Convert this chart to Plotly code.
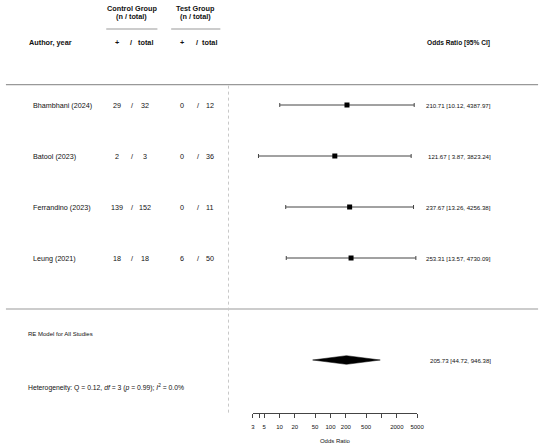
import math
import plotly.graph_objects as go

# study data
authors = ["Bhambhani (2024)", "Batool (2023)", "Ferrandino (2023)", "Leung (2021)"]
ctrl_events = [29, 2, 139, 18]
ctrl_total = [32, 3, 152, 18]
test_events = [0, 0, 0, 6]
test_total = [12, 36, 11, 50]
odds_ratio = [210.71, 121.67, 237.67, 253.31]
ci_low = [10.12, 3.87, 13.26, 13.57]
ci_high = [4387.97, 3823.24, 4256.38, 4730.09]

# pooled random effects estimate
re_label = "RE Model for All Studies"
re_or = 205.73
re_low = 44.72
re_high = 946.38

# heterogeneity
het_q = 0.12
het_df = 3
het_p = 0.99
het_i2 = 0.0

tick_vals = [3, 5, 10, 20, 50, 100, 200, 500, 2000, 5000]
tick_text = ["3", "5", "10", "20", "50", "100", "200", "500", "2000", "5000"]
unlabeled_ticks = [4, 1000]

W, H = 550, 448
FONT = "Liberation Sans, Arial, sans-serif"
TXT = "#111111"

# the visible odds ratio axis sits between these pixel columns
ax_px0, ax_px1 = 255, 422
lo, hi = math.log10(tick_vals[0]), math.log10(tick_vals[-1])
px_per_dec = (ax_px1 - ax_px0) / (hi - lo)
x_range = [lo - ax_px0 / px_per_dec, lo + (W - ax_px0) / px_per_dec]

rows = list(range(1, len(authors) + 1))
re_row = len(authors) + 2


def px(x):
    return x / W


def fmt_ci(est, l, u):
    ls = f"{l:.2f}"
    if len(ls) < 5:
        ls = " " + ls
    return f"{est:.2f} [{ls}, {u:.2f}]"


fig = go.Figure()

fig.add_trace(go.Scatter(
    x=odds_ratio, y=rows, mode="markers",
    marker=dict(symbol="square", size=5, color="black"),
    error_x=dict(type="data", symmetric=False,
                 array=[h - o for h, o in zip(ci_high, odds_ratio)],
                 arrayminus=[o - l for o, l in zip(odds_ratio, ci_low)],
                 color="#444444", thickness=1, width=2),
    hoverinfo="skip", showlegend=False))

dh = 0.085
fig.add_trace(go.Scatter(
    x=[re_low, re_or, re_high, re_or, re_low],
    y=[re_row, re_row - dh, re_row, re_row + dh, re_row],
    mode="lines", fill="toself", fillcolor="black",
    line=dict(color="black", width=0.5),
    hoverinfo="skip", showlegend=False))

# dummy trace so the odds ratio axis is drawn
fig.add_trace(go.Scatter(
    x=[tick_vals[0], tick_vals[-1]], y=[0, 0], xaxis="x2", yaxis="y2",
    mode="markers", marker=dict(opacity=0), hoverinfo="skip", showlegend=False))

ann = []


def add_text(x, y, text, size, anchor="left", bold=False):
    if bold:
        text = "<b>" + text + "</b>"
    ann.append(dict(x=px(x), y=y, xref="paper", yref="y", text=text,
                    showarrow=False, xanchor=anchor, yanchor="middle",
                    font=dict(family=FONT, size=size, color=TXT)))


# header
hs = 7.3
add_text(132, -0.9, "Control Group", hs, "center", True)
add_text(132, -0.73, "(n / total)", hs, "center", True)
add_text(197, -0.9, "Test Group", hs, "center", True)
add_text(197, -0.73, "(n / total)", hs, "center", True)
add_text(25, -0.22, "Author, year", hs, "left", True)
add_text(117, -0.22, "+", hs, "center", True)
add_text(131.5, -0.22, "/", hs, "center", True)
add_text(145.5, -0.22, "total", hs, "center", True)
add_text(183, -0.22, "+", hs, "center", True)
add_text(198.5, -0.22, "/", hs, "center", True)
add_text(211, -0.22, "total", hs, "center", True)
add_text(498, -0.22, "Odds Ratio [95% CI]", 6.6, "right", True)

fs = 7.2
for r, a, ce, ct, te, tt, o, l, u in zip(rows, authors, ctrl_events, ctrl_total,
                                         test_events, test_total, odds_ratio, ci_low, ci_high):
    add_text(29, r, a, fs)
    add_text(117, r, str(ce), fs, "center")
    add_text(132, r, "/", fs, "center")
    add_text(145.5, r, str(ct), fs, "center")
    add_text(183, r, str(te), fs, "center")
    add_text(199.5, r, "/", fs, "center")
    add_text(211, r, str(tt), fs, "center")
    add_text(499, r, fmt_ci(o, l, u), 6.1, "right")

add_text(24, 5.49, re_label, 6.0)
add_text(499, re_row, fmt_ci(re_or, re_low, re_high), 6.1, "right")
het = (f"Heterogeneity: Q = {het_q:.2f}, <i>df</i> = {het_df} "
       f"(<i>p</i> = {het_p:.2f}); <i>I</i><sup>2</sup> = {het_i2:.1f}%")
add_text(24, 6.53, het, 6.8)

shapes = [
    dict(type="line", xref="paper", yref="y", x0=px(4), x1=px(545), y0=0.6, y1=0.6,
         line=dict(color="#999999", width=1.2)),
    dict(type="line", xref="paper", yref="y", x0=px(4), x1=px(545), y0=5.0, y1=5.0,
         line=dict(color="#999999", width=1.2)),
    dict(type="line", xref="paper", yref="y", x0=px(106), x1=px(158), y0=-0.49, y1=-0.49,
         line=dict(color="#999999", width=1)),
    dict(type="line", xref="paper", yref="y", x0=px(172), x1=px(222), y0=-0.49, y1=-0.49,
         line=dict(color="#999999", width=1)),
    dict(type="line", xref="x", yref="y", x0=1, x1=1, y0=0.62, y1=7.04,
         line=dict(color="#c8c8c8", width=1, dash="dot")),
]

fig.update_layout(
    width=W, height=H,
    margin=dict(l=0, r=0, t=0, b=0),
    paper_bgcolor="white", plot_bgcolor="rgba(0,0,0,0)",
    annotations=ann, shapes=shapes,
    xaxis=dict(type="log", range=x_range, visible=False, domain=[0, 1]),
    yaxis=dict(range=[1 + (H - 105) / 51, 1 - 105 / 51], visible=False, domain=[0, 1]),
    xaxis2=dict(type="log", domain=[px(ax_px0), px(ax_px1)], range=[lo, hi],
                anchor="free", position=1 - 413 / H,
                showline=True, linecolor="#444444", linewidth=1,
                ticks="outside", ticklen=4, tickcolor="#444444", tickwidth=1,
                tickvals=tick_vals, ticktext=tick_text, showgrid=False, zeroline=False,
                ticklabelstandoff=4,
                minor=dict(tickvals=unlabeled_ticks, ticks="outside", ticklen=4,
                           tickcolor="#444444", tickwidth=1, showgrid=False),
                tickfont=dict(family=FONT, size=6.0, color=TXT),
                title=dict(text="Odds Ratio", font=dict(family=FONT, size=6.0, color=TXT),
                           standoff=9)),
    yaxis2=dict(domain=[0, 1], anchor="x2", visible=False, range=[0, 1]),
)

fig.write_html("out.html", config={"displayModeBar": False},
               post_script="document.documentElement.style.overflow='hidden';"
                           "document.body.style.margin='0';"
                           "document.body.style.overflow='hidden';")
